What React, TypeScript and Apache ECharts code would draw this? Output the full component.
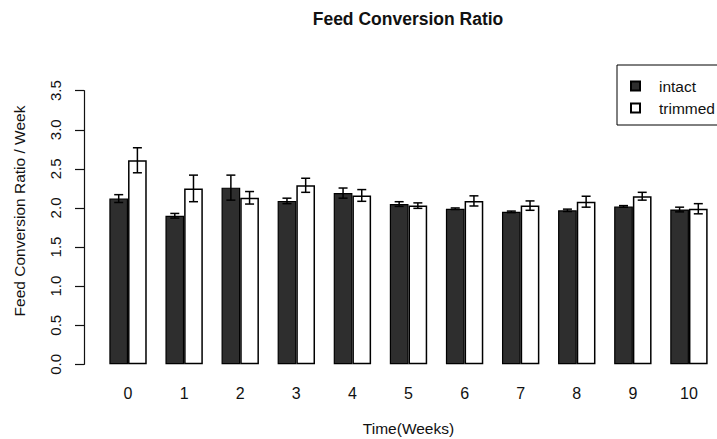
import React, { useEffect, useRef } from "react";
import * as echarts from "echarts";

const weeks = ["0", "1", "2", "3", "4", "5", "6", "7", "8", "9", "10"];
const intactMeans = [2.12, 1.9, 2.26, 2.09, 2.19, 2.05, 1.99, 1.95, 1.97, 2.02, 1.98];
const intactErrors = [0.05, 0.03, 0.16, 0.035, 0.065, 0.03, 0.01, 0.01, 0.015, 0.01, 0.03];
const trimmedMeans = [2.61, 2.25, 2.13, 2.29, 2.16, 2.03, 2.09, 2.03, 2.08, 2.15, 1.99];
const trimmedErrors = [0.16, 0.17, 0.08, 0.09, 0.075, 0.035, 0.065, 0.06, 0.07, 0.05, 0.065];
const yMin = 0;
const yMax = 3.5;
const yStep = 0.5;

const FONT = "'Liberation Sans', Arial, Helvetica, sans-serif";

export default function App() {
  const ref = useRef<HTMLDivElement>(null);
  useEffect(() => {
    if (!ref.current) return;
    const chart = echarts.init(ref.current, null, { renderer: "svg" });
    const errData: number[][] = [];
    weeks.forEach((_, i) => {
      errData.push([i, intactMeans[i], intactErrors[i], -1]);
      errData.push([i, trimmedMeans[i], trimmedErrors[i], 1]);
    });
    chart.setOption({
      animation: false,
      backgroundColor: "#fff",
      textStyle: { fontFamily: FONT, color: "#111" },
      grid: {
        left: 100,
        right: 0,
        top: 90.7,
        bottom: 74.7,
        containLabel: false,
        outerBoundsMode: "none",
      },
      graphic: [
        {
          type: "text",
          x: 408,
          y: 19,
          style: {
            text: "Feed Conversion Ratio",
            font: `bold 17.5px ${FONT}`,
            fill: "#111",
            align: "center",
            verticalAlign: "middle",
          },
        },
        {
          type: "text",
          x: 19,
          y: 211,
          rotation: Math.PI / 2,
          style: {
            text: "Feed Conversion Ratio / Week",
            font: `15.5px ${FONT}`,
            fill: "#111",
            align: "center",
            verticalAlign: "middle",
          },
        },
      ],
      legend: {
        orient: "vertical",
        left: 617,
        top: 65,
        padding: [13, 40, 9, 13],
        borderColor: "#000",
        borderWidth: 1,
        borderRadius: 0,
        itemWidth: 9,
        itemHeight: 9,
        itemGap: 6,
        icon: "rect",
        data: ["intact", "trimmed"],
        textStyle: {
          fontFamily: FONT,
          fontSize: 15.5,
          lineHeight: 14,
          color: "#111",
          padding: [0, 0, 0, 14],
        },
      },
      xAxis: {
        type: "category",
        data: weeks,
        axisLine: { show: false },
        axisTick: { show: false },
        splitLine: { show: false },
        axisLabel: { margin: 21, fontSize: 16, color: "#111", fontFamily: FONT },
        name: "Time(Weeks)",
        nameLocation: "middle",
        nameGap: 56,
        nameTextStyle: { fontSize: 15.5, color: "#111", fontFamily: FONT },
      },
      yAxis: {
        type: "value",
        min: yMin,
        max: yMax,
        interval: yStep,
        offset: 16,
        axisLine: { show: true, lineStyle: { color: "#111", width: 1.2 } },
        axisTick: { show: true, length: 9, lineStyle: { color: "#111", width: 1.2 } },
        splitLine: { show: false },
        axisLabel: {
          rotate: 90,
          margin: 21,
          fontSize: 15,
          color: "#111",
          fontFamily: FONT,
          formatter: (v: number) => v.toFixed(1),
        },
      },
      series: [
        {
          name: "intact",
          type: "bar",
          data: intactMeans,
          barWidth: "33.33%",
          barGap: "0%",
          itemStyle: { color: "#2e2e2e", borderColor: "#000", borderWidth: 1.2 },
        },
        {
          name: "trimmed",
          type: "bar",
          data: trimmedMeans,
          barWidth: "33.33%",
          barGap: "0%",
          itemStyle: { color: "#fff", borderColor: "#000", borderWidth: 1.5 },
        },
        {
          name: "errors",
          type: "custom",
          data: errData,
          encode: { x: 0, y: 1 },
          z: 5,
          renderItem: (params: any, api: any) => {
            const i = api.value(0);
            const m = api.value(1);
            const e = api.value(2);
            const side = api.value(3);
            const band = api.coord([1, 0])[0] - api.coord([0, 0])[0];
            const cx = api.coord([i, m])[0] + (side * band) / 6;
            const yt = api.coord([i, m + e])[1];
            const yb = api.coord([i, m - e])[1];
            const cap = 4.5;
            const style = { stroke: "#000", lineWidth: 1.5 };
            return {
              type: "group",
              children: [
                { type: "line", shape: { x1: cx, y1: yt, x2: cx, y2: yb }, style },
                { type: "line", shape: { x1: cx - cap, y1: yt, x2: cx + cap, y2: yt }, style },
                { type: "line", shape: { x1: cx - cap, y1: yb, x2: cx + cap, y2: yb }, style },
              ],
            };
          },
        },
      ],
    });
    return () => chart.dispose();
  }, []);
  return (
    <div
      ref={ref}
      style={{ position: "fixed", left: 0, top: 0, width: 717, height: 439, background: "#fff" }}
    />
  );
}
